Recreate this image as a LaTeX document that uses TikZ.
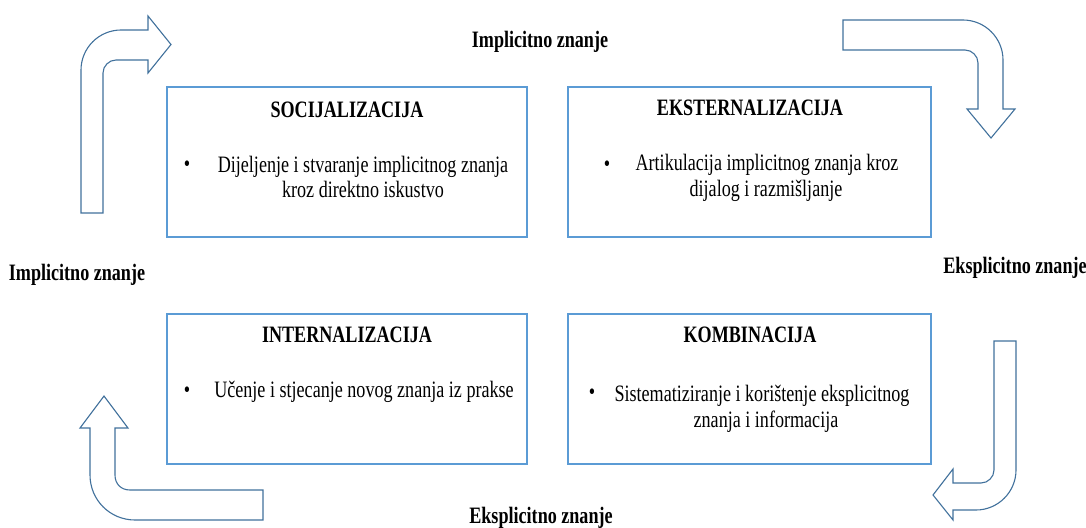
\documentclass[tikz,border=0pt]{standalone}
\usepackage{fontspec}
\setmainfont{Liberation Serif}[FakeStretch=0.77]
\definecolor{boxblue}{HTML}{5B9BD5}
\definecolor{arrowblue}{HTML}{41719C}
\begin{document}
\begin{tikzpicture}[x=1pt,y=-1pt,
  box/.style={draw=boxblue,line width=1.4pt,fill=white},
  bigarrow/.style={draw=arrowblue,line width=1.1pt,fill=white,line join=miter},
  txt/.style={inner sep=0pt,anchor=base,font=\fontsize{23.5}{26}\selectfont},
  ttl/.style={txt,font=\fontsize{23.5}{26}\selectfont\bfseries}]
\useasboundingbox (0,0) rectangle (1086,527);
% boxes
\draw[box] (167,87) rectangle (527,237);
\draw[box] (568,87) rectangle (931,237);
\draw[box] (167,314) rectangle (527,464);
\draw[box] (568,314) rectangle (931,464);
% titles
\node[ttl] (t1) at (347,117) {SOCIJALIZACIJA};
\node[ttl] (t2) at (750,115) {EKSTERNALIZACIJA};
\node[ttl] (t3) at (347,342) {INTERNALIZACIJA};
\node[ttl] (t4) at (750,342) {KOMBINACIJA};
% bullets
\node[txt] (b1) at (187,171) {•};
\node[txt] (b2) at (607,171) {•};
\node[txt] (b3) at (187,397) {•};
\node[txt] (b4) at (592,399) {•};
% body
\node[txt] (s1) at (363,172) {Dijeljenje i stvaranje implicitnog znanja};
\node[txt] (s2) at (363,197) {kroz direktno iskustvo};
\node[txt] (e1) at (767,170) {Artikulacija implicitnog znanja kroz};
\node[txt] (e2) at (766,196) {dijalog i razmišljanje};
\node[txt] (i1) at (364,397) {Učenje i stjecanje novog znanja iz prakse};
\node[txt] (k1) at (762,401) {Sistematiziranje i korištenje eksplicitnog};
\node[txt] (k2) at (766,427) {znanja i informacija};
% side labels
\node[ttl] (l1) at (540,48) {Implicitno znanje};
\node[ttl] (l2) at (77,280) {Implicitno znanje};
\node[ttl] (l3) at (1015,273) {Eksplicitno znanje};
\node[ttl] (l4) at (541,523) {Eksplicitno znanje};
% bent arrows
\draw[bigarrow] (81,213) -- (81,70) .. controls (81,48) and (99,30) .. (121,30)
  -- (148,30) -- (148,16) -- (171,44.5) -- (148,73) -- (148,60) -- (116,60)
  .. controls (109,60) and (103,66) .. (103,73) -- (103,213) -- cycle;
\draw[bigarrow] (843,20) -- (963,20) .. controls (985,20) and (1003,38) .. (1003,60)
  -- (1003,109) -- (1015,109) -- (991,138) -- (967,109) -- (978,109) -- (978,63)
  .. controls (978,56) and (972,50) .. (965,50) -- (843,50) -- cycle;
\draw[bigarrow] (994,341) -- (1016,341) -- (1016,470) .. controls (1016,492) and (998,510) .. (976,510)
  -- (953,510) -- (953,520) -- (933,495) -- (953,469) -- (953,483) -- (981,483)
  .. controls (988,483) and (994,477) .. (994,470) -- cycle;
\draw[bigarrow] (263,490) -- (130,490) .. controls (121,490) and (115,484) .. (115,475)
  -- (115,428) -- (128,428) -- (104,396) -- (80,428) -- (90,428) -- (90,475)
  .. controls (90,500) and (110,520) .. (135,520) -- (263,520) -- cycle;
\end{tikzpicture}
\end{document}
